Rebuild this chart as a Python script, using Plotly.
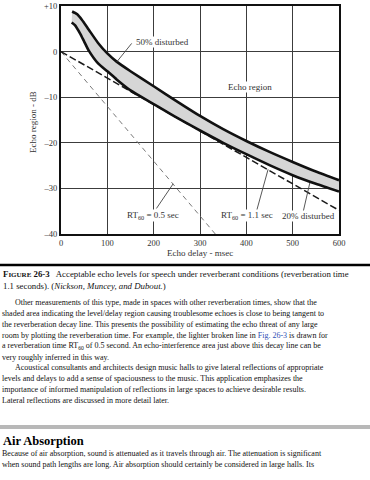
import plotly.graph_objects as go

# ---------------- data ----------------
upper_x = [24, 35, 45, 60, 80, 100, 120, 150, 200, 250, 300, 350, 400, 450, 500, 550, 600]
upper_y = [8.8, 8.2, 7.0, 4.8, 1.9, -0.4, -2.2, -4.3, -7.6, -10.9, -14.1, -17.0, -19.6, -22.0, -24.2, -26.3, -28.2]
lower_x = [23, 30, 41, 50, 60, 80, 100, 120, 150, 200, 250, 300, 350, 400, 450, 500, 550, 600]
lower_y = [6.4, 5.8, 4.0, 2.2, 0.2, -2.6, -4.3, -6.1, -8.5, -11.5, -14.5, -17.3, -20.0, -22.5, -24.9, -27.1, -29.0, -30.7]
rt11_x = [0, 600]
rt11_y = [0, -34.8]
rt05_x = [0, 333]
rt05_y = [0, -40]

x_ticks = [0, 100, 200, 300, 400, 500, 600]
y_ticks = [10, 0, -10, -20, -30, -40]
y_tick_text = ["+10", "0", "\u201310", "\u201320", "\u201330", "\u201340"]

caption_lines = [
    "<b>F<span style='font-size:7px'>IGURE</span> 26-3</b>   Acceptable echo levels for speech under reverberant conditions (reverberation time",
    "1.1 seconds). (<i>Nickson, Muncey, and Dubout.</i>)",
]
body_lines = [
    "Other measurements of this type, made in spaces with other reverberation times, show that the",
    "shaded area indicating the level/delay region causing troublesome echoes is close to being tangent to",
    "the reverberation decay line. This presents the possibility of estimating the echo threat of any large",
    "room by plotting the reverberation time. For example, the lighter broken line in <span style='color:#2f4fb5'>Fig. 26-3</span> is drawn for",
    "a reverberation time RT<sub>60</sub> of 0.5 second. An echo-interference area just above this decay line can be",
    "very roughly inferred in this way.",
    "Acoustical consultants and architects design music halls to give lateral reflections of appropriate",
    "levels and delays to add a sense of spaciousness to the music. This application emphasizes the",
    "importance of informed manipulation of reflections in large spaces to achieve desirable results.",
    "Lateral reflections are discussed in more detail later.",
]
indented = {0, 6}
heading = "Air Absorption"
tail_lines = [
    "Because of air absorption, sound is attenuated as it travels through air. The attenuation is significant",
    "when sound path lengths are long. Air absorption should certainly be considered in large halls. Its",
]

# ---------------- layout geometry ----------------
W, H = 370, 480
L, R, T, B = 61, 31, 6, 246
PW, PH = W - L - R, H - T - B
SERIF = "Liberation Serif, Times New Roman, serif"


def px(xp):
    return (xp - L) / PW


def py(yp):
    return (H - B - yp) / PH


fig = go.Figure()

# shaded band
fig.add_trace(go.Scatter(
    x=upper_x + lower_x[::-1], y=upper_y + lower_y[::-1],
    fill="toself", fillcolor="#d6d6d6", mode="lines",
    line=dict(width=0, shape="spline", smoothing=0.6), hoverinfo="skip", showlegend=False))
# RT60 = 0.5 s (light broken line)
fig.add_trace(go.Scatter(x=rt05_x, y=rt05_y, mode="lines",
                         line=dict(color="#7a7a7a", width=1, dash="5px,4px"), showlegend=False))
# RT60 = 1.1 s (broken line)
fig.add_trace(go.Scatter(x=rt11_x, y=rt11_y, mode="lines",
                         line=dict(color="#1a1a1a", width=1.5, dash="7px,3px"), showlegend=False))
# band edges
for xs, ys in ((upper_x, upper_y), (lower_x, lower_y)):
    fig.add_trace(go.Scatter(x=xs, y=ys, mode="lines",
                             line=dict(color="#111111", width=2.6, shape="spline", smoothing=0.6),
                             showlegend=False))

axis_common = dict(showgrid=True, gridcolor="#3c3c3c", gridwidth=1, zeroline=False,
                   showline=True, linecolor="#111111", linewidth=2, mirror=True,
                   ticks="", tickfont=dict(family=SERIF, size=8.5, color="#333333"))
fig.update_xaxes(range=[0, 600], tickvals=x_ticks, **axis_common)
fig.update_yaxes(range=[-40, 10], tickvals=y_ticks, ticktext=y_tick_text, **axis_common)

# leader lines
leaders = [
    ((120, -2.3), (152.6, 1.8)),
    ((206, -34.4), (242, -29.0)),
    ((422, -35.0), (447, -25.8)),
    ((523, -35.0), (537, -28.8)),
]
shapes = []
for (x0, y0), (x1, y1) in leaders:
    shapes.append(dict(type="line", xref="x", yref="y", x0=x0, y0=y0, x1=x1, y1=y1,
                       line=dict(color="#444444", width=0.9)))
# caption rule and section bar
shapes.append(dict(type="line", xref="paper", yref="paper", x0=px(0), x1=px(370), y0=py(265), y1=py(265),
                   line=dict(color="#000000", width=2.5)))
shapes.append(dict(type="rect", xref="paper", yref="paper", x0=px(0), x1=px(370), y0=py(425), y1=py(429),
                   line=dict(width=0), fillcolor="#b8b8b8"))

annos = []
chart_font = dict(family=SERIF, size=9, color="#333333")
chart_labels = [
    (160, 2.1, "50% disturbed", "left"),
    (408, -7.7, "Echo region", "center"),
    (199, -36.0, "RT<sub>60</sub> = 0.5 sec", "center"),
    (401, -36.0, "RT<sub>60</sub> = 1.1 sec", "center"),
    (535, -36.0, "20% disturbed", "center"),
]
for x, y, t, anc in chart_labels:
    annos.append(dict(x=x, y=y, xref="x", yref="y", text=t, showarrow=False, bgcolor="white",
                      borderpad=0, xanchor=anc, yanchor="middle", font=chart_font))
# axis titles
annos.append(dict(x=px(200), y=py(253), xref="paper", yref="paper", text="Echo delay - msec",
                  showarrow=False, xanchor="center", yanchor="middle", font=chart_font))
annos.append(dict(x=px(33), y=py(122), xref="paper", yref="paper", text="Echo region - dB",
                  showarrow=False, textangle=-90, xanchor="center", yanchor="middle", font=chart_font))

body_font = dict(family=SERIF, size=8, color="#111111")
cap_font = dict(family=SERIF, size=8.8, color="#111111")
cap_y = [274, 285.5]
for i, t in enumerate(caption_lines):
    annos.append(dict(x=px(1), y=py(cap_y[i]), xref="paper", yref="paper", text=t, showarrow=False,
                      xanchor="left", yanchor="middle", font=cap_font))
for i, t in enumerate(body_lines):
    xp = 13 if i in indented else 0
    annos.append(dict(x=px(xp), y=py(302.5 + 10.9 * i), xref="paper", yref="paper", text=t,
                      showarrow=False, xanchor="left", yanchor="middle", font=body_font))
annos.append(dict(x=px(1), y=py(440.5), xref="paper", yref="paper", text="<b>" + heading + "</b>",
                  showarrow=False, xanchor="left", yanchor="middle",
                  font=dict(family=SERIF, size=12.5, color="#000000")))
for i, t in enumerate(tail_lines):
    annos.append(dict(x=px(0), y=py(453.5 + 10.6 * i), xref="paper", yref="paper", text=t,
                      showarrow=False, xanchor="left", yanchor="middle", font=body_font))

fig.update_layout(width=W, height=H, margin=dict(l=L, r=R, t=T, b=B, autoexpand=False),
                  paper_bgcolor="white", plot_bgcolor="white", hovermode=False,
                  shapes=shapes, annotations=annos, showlegend=False)

fig.write_html("out.html", config={"displayModeBar": False, "staticPlot": True},
               post_script="document.body.style.margin='0';document.body.style.overflow='hidden';")
